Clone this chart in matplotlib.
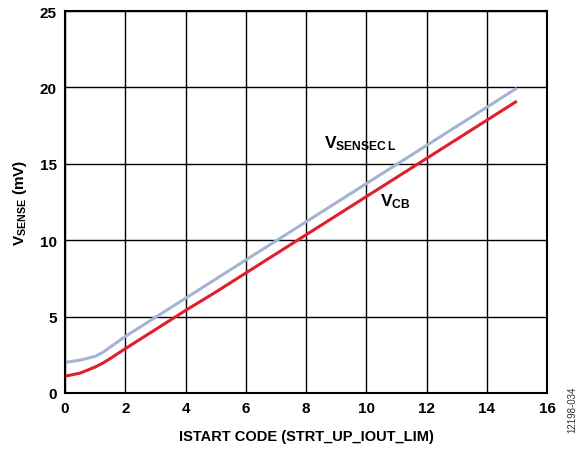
import matplotlib
matplotlib.use("Agg")
import matplotlib.pyplot as plt

# ISTART code vs sense voltage
code = [0, 0.5, 1, 1.25, 1.5, 1.75, 2, 3, 4, 5, 6, 7, 8, 9, 10, 11, 12, 13, 14, 15]
v_sensecl = [2.0, 2.15, 2.4, 2.65, 3.0, 3.35, 3.7, 4.95, 6.2, 7.45, 8.7, 9.95, 11.2,
             12.45, 13.7, 14.95, 16.2, 17.45, 18.7, 19.95]
v_cb = [1.1, 1.3, 1.7, 1.95, 2.25, 2.58, 2.9, 4.15, 5.4, 6.6, 7.85, 9.1, 10.35,
        11.6, 12.85, 14.1, 15.35, 16.6, 17.85, 19.1]

plt.rcParams['font.family'] = 'Liberation Sans'
plt.rcParams['mathtext.fontset'] = 'custom'
plt.rcParams['mathtext.rm'] = 'Liberation Sans:bold'
plt.rcParams['mathtext.bf'] = 'Liberation Sans:bold'
plt.rcParams['mathtext.it'] = 'Liberation Sans:bold'

fig = plt.figure(figsize=(5.86, 4.52), dpi=100)
ax = fig.add_axes([65 / 586, 1 - 394 / 452, 482 / 586, 382 / 452])

ax.plot(code, v_sensecl, color='#a3b5d3', lw=2.2, solid_capstyle='butt')
ax.plot(code, v_cb, color='#e11f2b', lw=2.2, solid_capstyle='butt')

ax.set_xlim(0, 16)
ax.set_ylim(0, 25)
ax.set_xticks(range(0, 17, 2))
ax.set_yticks(range(0, 26, 5))
ax.grid(True, color='black', lw=1.0)
ax.set_axisbelow(True)
for s in ax.spines.values():
    s.set_linewidth(1.5)
ax.tick_params(length=0, pad=6, labelsize=11)
for lab in ax.get_xticklabels() + ax.get_yticklabels():
    lab.set_fontweight('bold')

ax.set_xlabel('ISTART CODE (STRT_UP_IOUT_LIM)', fontsize=10.5, fontweight='bold', labelpad=10)
ax.set_ylabel(r'V$_{\mathrm{SENSE}}$ (mV)', fontsize=11, fontweight='bold', labelpad=8)

ax.text(8.6, 16.4, r'V$_{\mathrm{SENSEC\,L}}$', fontsize=12.5, fontweight='bold', va='center')
ax.text(10.45, 12.6, r'V$_{\mathrm{CB}}$', fontsize=12.5, fontweight='bold', va='center')

fig.text(572 / 586, 1 - 410 / 452, '12198-034', rotation=90, fontsize=7,
         color='#333333', ha='center', va='center')

fig.savefig('out.png', dpi=100)
